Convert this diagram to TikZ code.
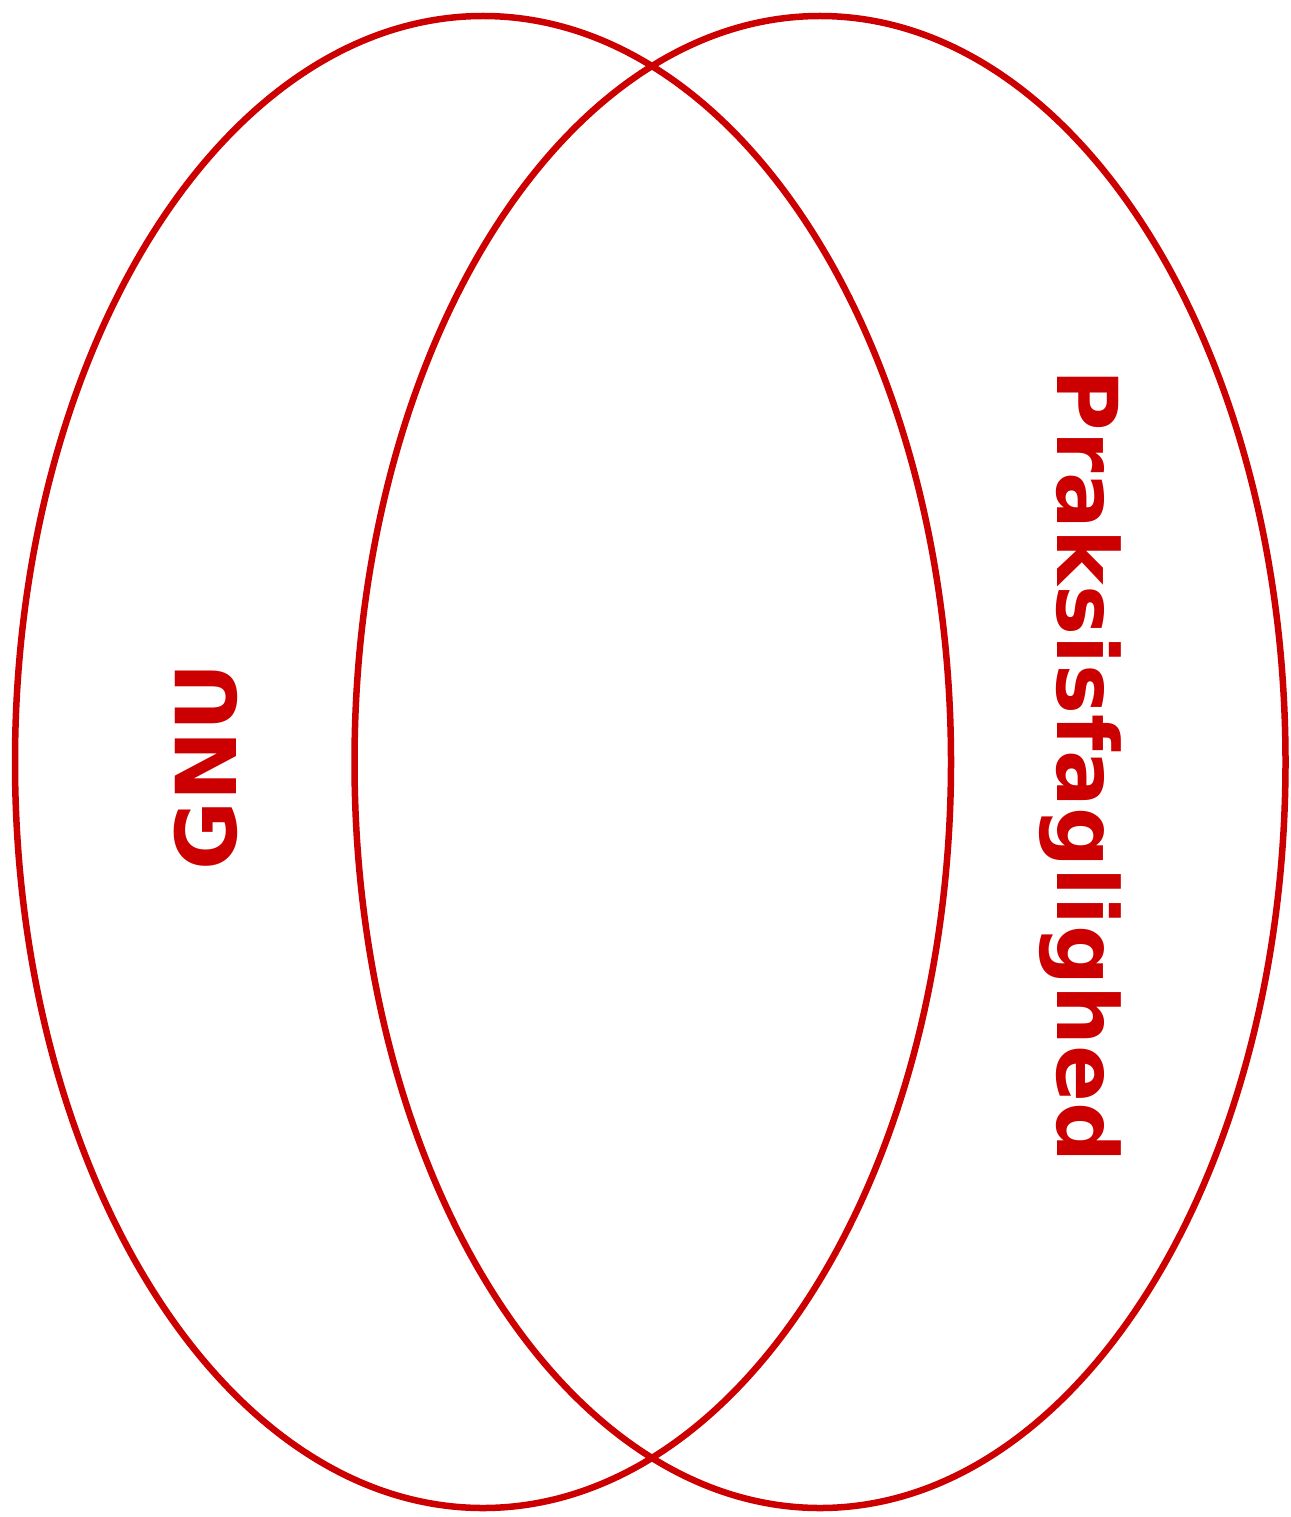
\documentclass[tikz,border=0pt]{standalone}
\usepackage{fontspec}
\usetikzlibrary{shapes.geometric}
\newfontfamily\lblfont{DejaVu Sans}
\definecolor{vred}{HTML}{CC0000}
\begin{document}
\begin{tikzpicture}[x=1pt,y=-1pt,
  ring/.style={ellipse,draw=vred,line width=6.5pt,inner sep=0pt,minimum width=936pt,minimum height=1492pt},
  lbl/.style={text=vred,font=\lblfont\bfseries\fontsize{84}{100}\selectfont,inner sep=0pt,anchor=base}]
\useasboundingbox (0,0) rectangle (1290,1517);
\fill[white] (0,0) rectangle (1290,1517);
\node[ring] (gnu) at (483,762) {};
\node[ring,minimum width=931pt] (praks) at (820,762) {};
\node[lbl,rotate=90] (tgnu) at (236,767) {GNU};
\node[lbl,rotate=-90] (tpraks) at (1057,766) {Praksisfaglighed};
\end{tikzpicture}
\end{document}
